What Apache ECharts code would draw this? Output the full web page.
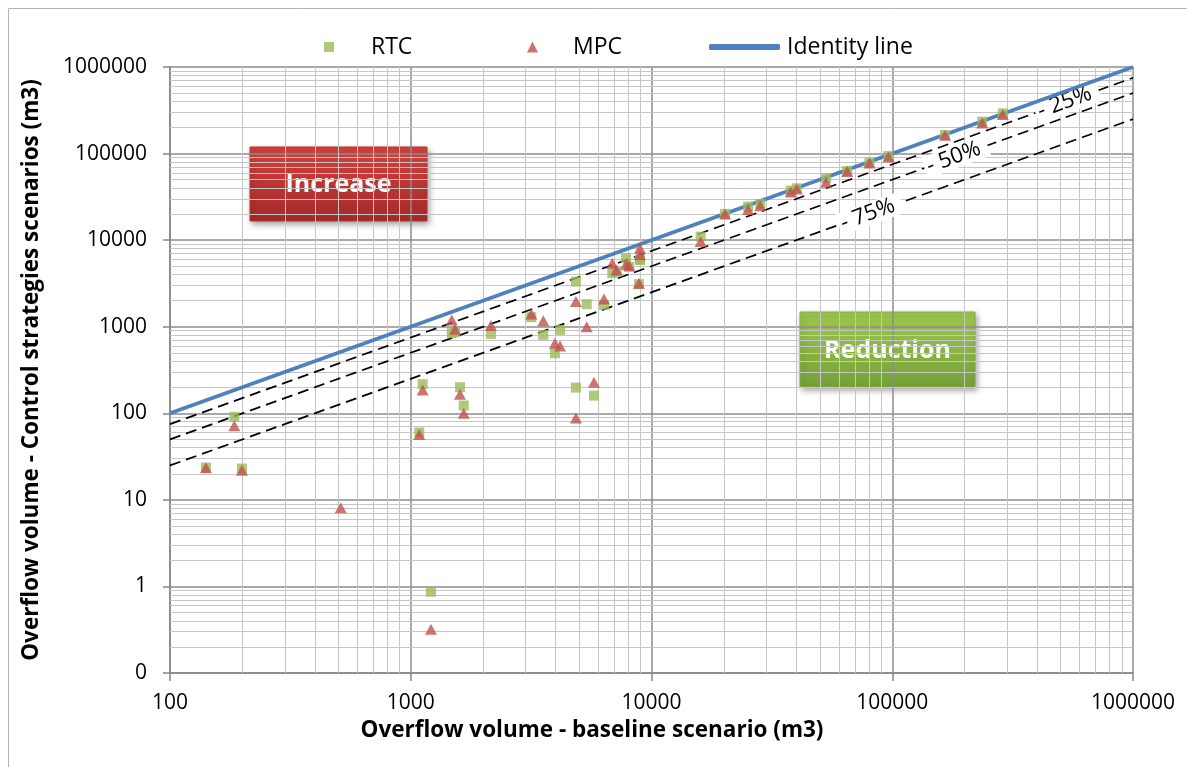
<!DOCTYPE html>
<html><head><meta charset="utf-8">
<script src="https://cdn.jsdelivr.net/npm/echarts@6/dist/echarts.min.js"></script>
<style>html,body{margin:0;padding:0;background:#fff}#c{width:1187px;height:767px}</style>
</head><body><div id="c"></div><script>
// Baseline overflow volume (m3) for each event / catchment
const baselineVolume = [141, 185, 199, 512, 1085, 1121, 1213, 1480, 1527, 1601, 1660, 2154, 3168, 3553, 3971, 4170, 4853, 4853, 5383, 5768, 6350, 6870, 7160, 7840, 8075, 8866, 8954, 8954, 16000, 20200, 25200, 28300, 37900, 40100, 53100, 65000, 80400, 96400, 165600, 236500, 287700];
// RTC scenario overflow volume (m3); null = not shown
const rtcVolume = [23.6, 91, 23, null, 60, 217, 0.87, 841, 870, 200, 123, 826, 1288, 804, 494, 918, 3319, 198, 1820, 160, 1787, 4150, 4300, 6180, 4900, 3100, 6009, 5900, 10960, 20100, 24400, 26200, 37300, 39700, 51900, 63000, 78500, 93800, 164000, 233500, 291600];
// MPC scenario overflow volume (m3)
const mpcVolume = [23.5, 72, 22, 8.1, 57, 186, 0.32, 1199, 935, 166, 100, 1030, 1406, 1175, 644, 600, 1950, 88, 1002, 229, 2094, 5405, 4530, 5270, 5100, 3176, 8054, 6800, 9620, 20100, 22600, 25000, 36000, 39000, 46700, 62000, 78000, 91000, 163000, 226000, 282000];
const identityEnds = [100, 1000000];
const reductionRatios = [0.75, 0.5, 0.25];
const reductionLabels = ['- 25%', '- 50%', '- 75%'];
const reductionLabelX = [532000, 184000, 80900];
const xRange = [100, 1000000];
const yRange = [0.1, 1000000];

const FONT = '"Open Sans", "Liberation Sans", sans-serif';

function minorValues(min, max) {
  const out = [];
  for (let d = Math.round(Math.log10(min)); d < Math.round(Math.log10(max)); d++) {
    for (let m = 2; m <= 9; m++) out.push(m * Math.pow(10, d));
  }
  return out;
}
const xMinor = minorValues(xRange[0], xRange[1]);
const yMinor = minorValues(yRange[0], yRange[1]);

const rtcData = [], mpcData = [];
baselineVolume.forEach((x, i) => {
  if (rtcVolume[i] != null) rtcData.push([x, rtcVolume[i]]);
  if (mpcVolume[i] != null) mpcData.push([x, mpcVolume[i]]);
});
const identityData = identityEnds.map(v => [v, v]);

const series = [];
// minor gridlines
series.push({
  name: 'minorGrid', type: 'line', data: identityData, symbol: 'none', silent: true,
  lineStyle: { opacity: 0 }, z: 1, animation: false,
  markLine: {
    z: 1, silent: true, symbol: ['none', 'none'], label: { show: false }, animation: false,
    lineStyle: { color: '#c6c6c6', width: 1, type: 'solid' },
    emphasis: { disabled: true },
    data: xMinor.map(v => ({ xAxis: v })).concat(yMinor.map(v => ({ yAxis: v })))
  }
});
// reduction lines
reductionRatios.forEach((r, i) => {
  series.push({
    name: reductionLabels[i], type: 'line', symbol: 'none', silent: true, z: 2,
    data: identityEnds.map(v => [v, v * r]),
    lineStyle: { color: '#000', width: 1.7, type: [11, 6] }
  });
});
// labels of reduction lines
series.push({
  name: 'reductionLabels', type: 'line', data: [], silent: true, z: 3,
  markPoint: {
    z: 3, symbol: 'circle', symbolSize: 0, silent: true,
    label: {
      show: true, position: 'inside', rotate: 20, fontFamily: FONT, fontSize: 22, color: '#000',
      backgroundColor: '#fff', padding: [0, 8, 0, 3]
    },
    data: reductionRatios.map((r, i) => ({
      coord: [reductionLabelX[i], reductionLabelX[i] * r],
      label: { formatter: reductionLabels[i] }
    }))
  }
});
series.push({
  name: 'Identity line', type: 'line', data: identityData, symbol: 'none', z: 4,
  itemStyle: { color: '#4f81bd' },
  lineStyle: { color: '#4f81bd', width: 3.8 }
});
series.push({
  name: 'RTC', type: 'scatter', data: rtcData, symbol: 'rect', symbolSize: 10, z: 5,
  itemStyle: { color: '#9bbb59' }
});
series.push({
  name: 'MPC', type: 'scatter', data: mpcData, symbol: 'triangle', symbolSize: [12, 11], z: 6,
  itemStyle: { color: '#c0504d' }
});

const legendText = { fontFamily: FONT, fontSize: 23, color: '#000', lineHeight: 24 };
function box(x, y, w, h, c1, c2, stroke, text) {
  return {
    type: 'group', z: 100, children: [
      { type: 'rect', shape: { x: x, y: y, width: w, height: h },
        style: { fill: new echarts.graphic.LinearGradient(0, 0, 0, 1, [{ offset: 0, color: c1 }, { offset: 1, color: c2 }]),
          stroke: stroke, lineWidth: 1, shadowBlur: 6, shadowOffsetX: 2, shadowOffsetY: 3, shadowColor: 'rgba(0,0,0,0.35)' } },
      { type: 'text', x: x + w / 2, y: y + h / 2 + 1,
        style: { text: text, fill: '#fff', fontFamily: FONT, fontWeight: 'bold', fontSize: 25, align: 'center', verticalAlign: 'middle' } }
    ]
  };
}

const option = {
  animation: false,
  backgroundColor: '#fff',
  grid: { left: 170, right: 54, top: 67, bottom: 94, containLabel: false, outerBoundsMode: 'none' },
  legend: [
    { data: [{ name: 'RTC', icon: 'rect' }], left: 324, top: 35, padding: 0, itemWidth: 10, itemHeight: 10,
      selectedMode: false, textStyle: Object.assign({}, legendText, { padding: [0, 0, 0, 32] }) },
    { data: [{ name: 'MPC', icon: 'triangle' }], left: 527, top: 35, padding: 0, itemWidth: 11, itemHeight: 11,
      selectedMode: false, textStyle: Object.assign({}, legendText, { padding: [0, 0, 0, 30] }) },
    { data: [{ name: 'Identity line', icon: 'roundRect' }], left: 709, top: 35, padding: 0, itemWidth: 71, itemHeight: 6,
      selectedMode: false, textStyle: Object.assign({}, legendText, { padding: [0, 0, 0, 2] }) }
  ],
  xAxis: {
    type: 'log', logBase: 10, min: xRange[0], max: xRange[1], splitNumber: 4,
    axisLine: { show: true, lineStyle: { color: '#868686', width: 1.5 } },
    axisTick: { show: true, length: 8, lineStyle: { color: '#868686', width: 1.5 } },
    axisLabel: { fontFamily: FONT, fontSize: 21, color: '#000', margin: 20, formatter: v => String(Math.round(v)) },
    splitLine: { show: true, lineStyle: { color: '#8c8c8c', width: 1.5 } },
    name: 'Overflow volume - baseline scenario (m3)', nameLocation: 'middle', nameGap: 42,
    nameTextStyle: { fontFamily: FONT, fontWeight: 'bold', fontSize: 22.5, color: '#000', padding: [0, 119, 0, 0] }
  },
  yAxis: {
    type: 'log', logBase: 10, min: yRange[0], max: yRange[1], splitNumber: 7,
    axisLine: { show: true, lineStyle: { color: '#868686', width: 1.5 } },
    axisTick: { show: true, length: 7, lineStyle: { color: '#868686', width: 1.5 } },
    axisLabel: { fontFamily: FONT, fontSize: 21, color: '#000', margin: 23, formatter: v => (v < 1 ? '0' : String(Math.round(v))) },
    splitLine: { show: true, lineStyle: { color: '#8c8c8c', width: 1.5 } },
    name: 'Overflow volume - Control strategies scenarios (m3)', nameLocation: 'middle', nameGap: 127,
    nameTextStyle: { fontFamily: FONT, fontWeight: 'bold', fontSize: 22.5, color: '#000' }
  },
  graphic: [
    { type: 'rect', z: -10, silent: true, shape: { x: 8.5, y: 8.5, width: 1300, height: 900 },
      style: { fill: 'none', stroke: '#b4b4b4', lineWidth: 1 } },
    box(250, 147, 177, 74, '#d4413f', '#a32a28', '#b23634', 'Increase'),
    box(800, 312, 175, 75, '#9dc94d', '#76a03a', '#86ad45', 'Reduction')
  ],
  series: series
};
const chart = echarts.init(document.getElementById('c'), null, { renderer: 'canvas' });
chart.setOption(option);
</script></body></html>
